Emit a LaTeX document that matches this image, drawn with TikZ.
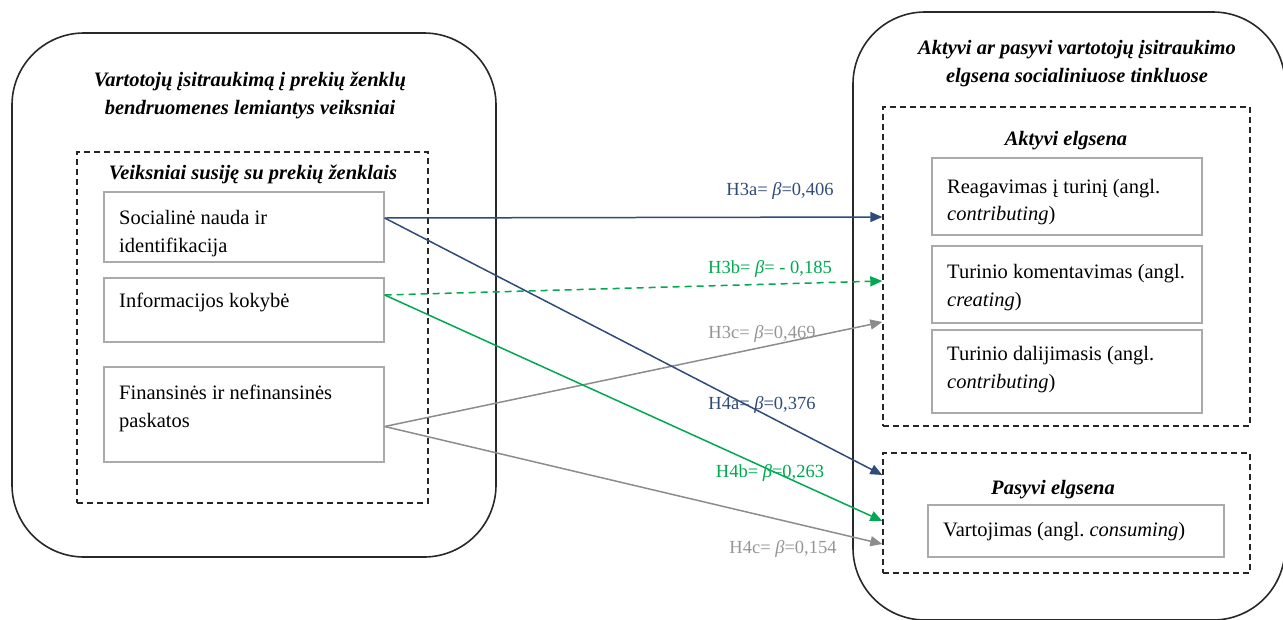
\documentclass[tikz,border=0pt]{standalone}
\usepackage{fontspec}
\setmainfont{Liberation Serif}
\usetikzlibrary{arrows.meta,calc}
\frenchspacing
\definecolor{dblue}{RGB}{46,75,122}
\definecolor{lgreen}{RGB}{0,168,80}
\definecolor{lgray}{RGB}{140,140,140}
\definecolor{tgray}{RGB}{150,150,150}
\definecolor{boxgray}{RGB}{170,170,170}
\definecolor{outline}{RGB}{40,40,40}
\tikzset{
  outerbox/.style={draw=outline, line width=1.6pt, rounded corners=72pt, inner sep=0pt},
  dashbox/.style={draw=black!85, line width=1.4pt, dash pattern=on 6pt off 4pt, inner sep=0pt},
  innerbox/.style={draw=boxgray, line width=1.4pt, inner sep=0pt},
  body/.style={font=\fontsize{20.5}{28}\selectfont, inner sep=0pt, anchor=base west},
  ttl/.style={font=\fontsize{20.5}{28}\selectfont\bfseries\itshape, inner sep=0pt, anchor=base},
  lbl/.style={font=\fontsize{18.5}{22}\selectfont, inner sep=0pt, anchor=base},
  conn/.style={line width=1.5pt, -{Triangle[length=12pt,width=10pt]}},
}
\begin{document}
\begin{tikzpicture}[x=1pt,y=-1pt]
\useasboundingbox (0,0) rectangle (1283,619);
% outer containers
\node[outerbox, minimum width=484pt, minimum height=524pt] (L) at (254,295) {};
\node[outerbox, minimum width=432pt, minimum height=608pt] (R) at (1069,316) {};
% titles
\node[ttl] (lt1) at (250,86) {Vartotojų įsitraukimą į prekių ženklų};
\node[ttl] (lt2) at (250,114) {bendruomenes lemiantys veiksniai};
\node[ttl] (rt1) at (1077,54) {Aktyvi ar pasyvi vartotojų įsitraukimo};
\node[ttl] (rt2) at (1077,82) {elgsena socialiniuose tinkluose};
% dashed groups
\node[dashbox, minimum width=351pt, minimum height=351pt] (LG) at (252.5,327.5) {};
\node[dashbox, minimum width=367pt, minimum height=319pt] (AG) at (1066.5,266.5) {};
\node[dashbox, minimum width=367pt, minimum height=120pt] (PG) at (1066.5,513) {};
\node[ttl] (lgt) at (253,179) {Veiksniai susiję su prekių ženklais};
\node[ttl] (agt) at (1066,145) {Aktyvi elgsena};
\node[ttl] (pgt) at (1053,494) {Pasyvi elgsena};
% left boxes
\node[innerbox, minimum width=280pt, minimum height=70pt] (soc) at (244,227) {};
\node[innerbox, minimum width=280pt, minimum height=64pt] (inf) at (244,310) {};
\node[innerbox, minimum width=280pt, minimum height=95pt] (fin) at (244,414.5) {};
\node[body] (soc1) at (119,224) {Socialinė nauda ir};
\node[body] (soc2) at (119,252) {identifikacija};
\node[body] (inf1) at (119,307) {Informacijos kokybė};
\node[body] (fin1) at (119,399) {Finansinės ir nefinansinės};
\node[body] (fin2) at (119,427) {paskatos};
% right boxes
\node[innerbox, minimum width=270pt, minimum height=77pt] (rea) at (1067,196.5) {};
\node[innerbox, minimum width=270pt, minimum height=77pt] (kom) at (1067,284.5) {};
\node[innerbox, minimum width=270pt, minimum height=83pt] (dal) at (1067,371.5) {};
\node[innerbox, minimum width=296pt, minimum height=52pt] (var) at (1076,531) {};
\node[body] (rea1) at (947,193) {Reagavimas į turinį (angl.};
\node[body] (rea2) at (947,220) {\itshape contributing\upshape)};
\node[body] (kom1) at (947,278) {Turinio komentavimas (angl.};
\node[body] (kom2) at (947,306) {\itshape creating\upshape)};
\node[body] (dal1) at (947,360) {Turinio dalijimasis (angl.};
\node[body] (dal2) at (947,388) {\itshape contributing\upshape)};
\node[body] (var1) at (943,536) {Vartojimas (angl. {\itshape consuming})};
% connector anchors
\coordinate (sS) at ($(soc.east)+(0,-9)$);
\coordinate (sI) at ($(inf.east)+(0,-15)$);
\coordinate (sF) at ($(fin.east)+(0,12)$);
\coordinate (t3a) at (AG.west |- 0,217);
\coordinate (t3b) at (AG.west |- 0,281);
\coordinate (t3c) at (AG.west |- 0,322);
\coordinate (t4a) at (PG.west |- 0,475);
\coordinate (t4b) at (PG.west |- 0,521);
\coordinate (t4c) at (PG.west |- 0,544);
% connectors
\draw[conn, dblue] (sS) -- (t3a);
\draw[conn, lgreen, dash pattern=on 7pt off 5pt] (sI) -- (t3b);
\draw[conn, lgray] (sF) -- (t3c);
\draw[conn, dblue] (sS) -- (t4a);
\draw[conn, lgreen] (sI) -- (t4b);
\draw[conn, lgray] (sF) -- (t4c);
% labels
\node[lbl, text=dblue] (l3a) at (780,195) {H3a= {\itshape β}=0,406};
\node[lbl, text=lgreen] (l3b) at (770,273) {H3b= {\itshape β}= - 0,185};
\node[lbl, text=tgray] (l3c) at (762,338) {H3c= {\itshape β}=0,469};
\node[lbl, text=dblue] (l4a) at (762,409) {H4a= {\itshape β}=0,376};
\node[lbl, text=lgreen] (l4b) at (770,477) {H4b= {\itshape β}=0,263};
\node[lbl, text=tgray] (l4c) at (783,553) {H4c= {\itshape β}=0,154};
\end{tikzpicture}
\end{document}
